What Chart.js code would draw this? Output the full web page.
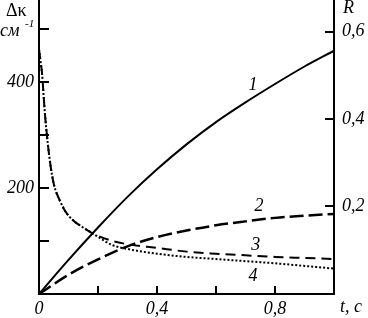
<!DOCTYPE html>
<html>
<head>
<meta charset="utf-8">
<script src="https://cdn.jsdelivr.net/npm/chart.js@4.4.0/dist/chart.umd.min.js"></script>
<style>
html, body { margin: 0; padding: 0; background: #fff; }
#wrap { position: relative; width: 368px; height: 318px; }
</style>
</head>
<body>
<div id="wrap"><canvas id="chart"></canvas></div>
<script>
// кривые 1, 2 — R (правая ось)
const tR = [0, 0.1, 0.2, 0.3, 0.4, 0.5, 0.6, 0.7, 0.8, 0.9, 1.0];
const curve1 = [0, 0.078, 0.152, 0.222, 0.285, 0.342, 0.393, 0.438, 0.48, 0.52, 0.556];
const curve2 = [0, 0.044, 0.079, 0.109, 0.13, 0.145, 0.157, 0.166, 0.174, 0.179, 0.183];

// кривые 3, 4 — Δκ, см^-1 (левая ось)
const tK = [0, 0.005, 0.01, 0.02, 0.03, 0.04, 0.05, 0.06, 0.07, 0.085, 0.1, 0.12, 0.14, 0.18, 0.25, 0.3, 0.4, 0.5, 0.6, 0.7, 0.8, 0.9, 1.0];
const curve3 = [462, 440, 418, 341, 283, 239, 208, 190, 177, 160, 148, 137, 129, 115, 100, 94, 87, 80, 76, 73, 70, 68, 66];
const curve4 = [462, 440, 418, 341, 283, 239, 208, 190, 177, 160, 148, 137, 129, 115, 92, 85, 76, 70, 66, 62, 58, 53, 48];

// оси
const xTicks = [0, 0.2, 0.4, 0.6, 0.8, 1.0];
const xLabels = ['0', '', '0,4', '', '0,8', ''];
const kTicks = [0, 100, 200, 300, 400, 500];
const kLabels = ['', '', '200', '', '400', ''];
const rTicks = [0, 0.2, 0.4, 0.6];
const rLabels = ['', '0,2', '0,4', '0,6'];

// номера кривых
const curveNames = ['1', '2', '3', '4'];
const nameT = [0.725, 0.746, 0.735, 0.725];
const nameV = [0.478, 0.201, 92, 34];
const nameAxis = ['yR', 'yR', 'yK', 'yK'];

const serif = '"Liberation Serif", "DejaVu Serif", serif';

function pts(xs, ys) {
    return xs.map((x, i) => ({ x: x, y: ys[i] }));
}

function fixTicks(values, labels) {
    return function (scale) {
        scale.ticks = values.map((v, i) => ({ value: v, label: labels[i] }));
    };
}

function fixSize(prop, size) {
    return function (scale) {
        scale[prop] = size;
        scale.paddingTop = 0;
        scale.paddingBottom = 0;
        scale.paddingLeft = 0;
        scale.paddingRight = 0;
    };
}

// засечки внутрь графика + подписи
const decor = {
    id: 'decor',
    afterDraw(chart) {
        const ctx = chart.ctx;
        const a = chart.chartArea;
        const sx = chart.scales.x, sk = chart.scales.yK, sr = chart.scales.yR;
        ctx.save();
        ctx.strokeStyle = '#000';
        ctx.lineWidth = 2;
        ctx.beginPath();
        kTicks.forEach(v => {
            if (v === 0) return;
            const y = Math.round(sk.getPixelForValue(v));
            ctx.moveTo(a.left, y); ctx.lineTo(a.left + 10, y);
        });
        rTicks.forEach(v => {
            if (v === 0) return;
            const y = Math.round(sr.getPixelForValue(v));
            ctx.moveTo(a.right, y); ctx.lineTo(a.right - 9, y);
        });
        xTicks.forEach(v => {
            if (v === 0) return;
            const x = Math.round(sx.getPixelForValue(v));
            ctx.moveTo(x, a.bottom); ctx.lineTo(x, a.bottom - 8);
        });
        ctx.stroke();

        ctx.fillStyle = '#000';
        ctx.textBaseline = 'middle';
        ctx.textAlign = 'center';
        ctx.font = 'italic 18px ' + serif;
        curveNames.forEach((n, i) => {
            const s = chart.scales[nameAxis[i]];
            ctx.fillText(n, sx.getPixelForValue(nameT[i]), s.getPixelForValue(nameV[i]));
        });

        // заголовки осей
        ctx.textAlign = 'left';
        ctx.font = '18px ' + serif;
        ctx.fillText('Δκ', 6, 11);
        ctx.font = 'italic 18px ' + serif;
        ctx.fillText('см', 0, 31);
        ctx.font = 'italic 11px ' + serif;
        ctx.fillText('-1', 25, 24);
        ctx.font = 'italic 18px ' + serif;
        ctx.fillText('R', a.right + 9, 8);
        ctx.fillText('t, c', a.right + 6, a.bottom + 13);
        ctx.restore();
    }
};

const tickFont = { family: serif, size: 18, style: 'italic' };

const ctx = document.getElementById('chart').getContext('2d');
new Chart(ctx, {
    type: 'line',
    data: {
        datasets: [
            { label: '1', data: pts(tR, curve1), yAxisID: 'yR', borderColor: '#000', borderWidth: 2, borderDash: [] },
            { label: '2', data: pts(tR, curve2), yAxisID: 'yR', borderColor: '#000', borderWidth: 2.5, borderDash: [14, 5] },
            { label: '3', data: pts(tK, curve3), yAxisID: 'yK', borderColor: '#000', borderWidth: 2, borderDash: [10, 6] },
            { label: '4', data: pts(tK, curve4), yAxisID: 'yK', borderColor: '#000', borderWidth: 2, borderDash: [2, 2] }
        ]
    },
    options: {
        responsive: true,
        maintainAspectRatio: false,
        devicePixelRatio: 1,
        animation: false,
        layout: { padding: 0 },
        elements: {
            point: { radius: 0 },
            line: { cubicInterpolationMode: 'monotone', fill: false }
        },
        plugins: {
            legend: { display: false },
            tooltip: { enabled: false }
        },
        scales: {
            x: {
                type: 'linear',
                min: 0,
                max: 1,
                afterBuildTicks: fixTicks(xTicks, xLabels),
                afterFit: fixSize('height', 24),
                grid: { drawOnChartArea: false, drawTicks: false },
                border: { color: '#000', width: 2 },
                ticks: {
                    padding: 4,
                    color: '#000',
                    maxRotation: 0,
                    autoSkip: false,
                    font: tickFont,
                    callback: (v, i) => xLabels[i]
                }
            },
            yK: {
                position: 'left',
                min: 0,
                max: 555,
                afterBuildTicks: fixTicks(kTicks, kLabels),
                afterFit: fixSize('width', 39),
                grid: { drawOnChartArea: false, drawTicks: false },
                border: { color: '#000', width: 2 },
                ticks: {
                    padding: 5,
                    color: '#000',
                    autoSkip: false,
                    font: tickFont,
                    callback: (v, i) => kLabels[i]
                }
            },
            yR: {
                position: 'right',
                min: 0,
                max: 0.672,
                afterBuildTicks: fixTicks(rTicks, rLabels),
                afterFit: fixSize('width', 34),
                grid: { drawOnChartArea: false, drawTicks: false },
                border: { color: '#000', width: 2 },
                ticks: {
                    padding: 8,
                    color: '#000',
                    autoSkip: false,
                    font: tickFont,
                    callback: (v, i) => rLabels[i]
                }
            }
        }
    },
    plugins: [decor]
});
</script>
</body>
</html>
